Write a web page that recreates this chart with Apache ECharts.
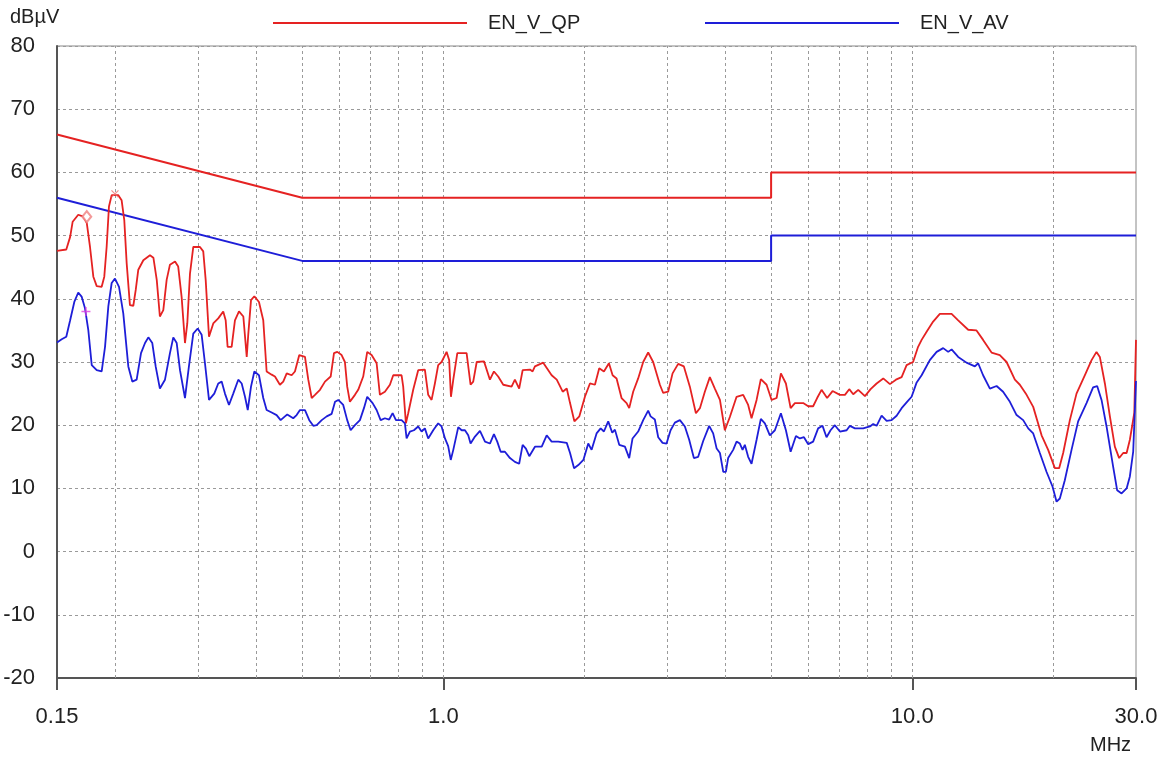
<!DOCTYPE html>
<html><head><meta charset="utf-8">
<script src="https://cdn.jsdelivr.net/npm/echarts@6/dist/echarts.min.js"></script>
<style>html,body{margin:0;padding:0;background:#fff;}#c{width:1173px;height:758px;}</style>
</head><body><div id="c"></div>
<script>
// ---- data (MHz, dBµV) ----
const qpFreq=[0.150,0.157,0.160,0.162,0.1665,0.1707,0.1736,0.1764,0.1793,0.1823,
0.1868,0.1892,0.1914,0.1936,0.1962,0.2027,0.206,0.2087,0.2112,0.2146,
0.2182,0.2208,0.2236,0.2292,0.2368,0.2408,0.2448,0.2486,0.2528,0.257,
0.2612,0.2678,0.272,0.2766,0.2812,0.2844,0.2882,0.2929,0.3027,0.3076,
0.3113,0.3164,0.3231,0.3311,0.3393,0.3434,0.3467,0.3536,0.3594,0.3666,
0.3745,0.3808,0.3838,0.3889,0.3953,0.4044,0.413,0.4199,0.4304,0.4374,
0.4482,0.4556,0.4634,0.4748,0.4825,0.4929,0.5069,0.5152,0.5239,0.5324,
0.5457,0.5592,0.5751,0.5845,0.5941,0.6068,0.6167,0.6237,0.632,0.6478,
0.6583,0.6747,0.6881,0.7031,0.7206,0.7323,0.7505,0.7692,0.7818,0.8146,
0.8211,0.832,0.8415,0.8624,0.8838,0.9133,0.9283,0.9439,0.9593,0.975,
0.9914,1.016,1.029,1.038,1.050,1.071,1.121,1.143,1.158,1.178,
1.221,1.257,1.282,1.309,1.342,1.398,1.421,1.451,1.476,1.530,
1.550,1.568,1.633,1.702,1.745,1.797,1.833,1.863,1.903,1.950,
2.004,2.054,2.105,2.150,2.200,2.255,2.296,2.341,2.399,2.459,
2.491,2.540,2.603,2.668,2.734,2.802,2.896,2.943,3.016,3.082,
3.168,3.258,3.355,3.456,3.525,3.611,3.701,3.793,3.889,3.984,
4.083,4.220,4.359,4.467,4.542,4.656,4.754,4.890,5.012,5.137,
5.246,5.377,5.503,5.620,5.853,5.999,6.146,6.268,6.405,6.583,
6.761,7.010,7.185,7.338,7.483,7.669,7.927,8.150,8.394,8.671,
8.960,9.229,9.491,9.726,10.04,10.29,10.47,10.73,11.08,11.45,
12.13,12.53,13.16,13.71,14.16,14.76,15.37,15.89,16.55,16.96,
17.53,18.11,18.87,19.49,20.14,20.57,20.98,21.68,22.40,23.33,
24.12,24.71,25.12,25.75,26.39,27.04,27.62,28.17,28.65,29.11,
29.50,29.75,30.0];
const qpLevel=[47.6,47.8,49.8,52.2,53.3,53.0,52.0,48.2,43.5,42.0,
41.9,43.5,48.2,54.6,56.4,56.4,55.6,52.5,45.6,39.0,
38.9,41.4,44.6,46.1,46.9,46.5,43.0,37.2,38.2,43.0,
45.4,45.9,45.1,40.3,33.0,36.1,44.0,48.2,48.2,47.5,
43.0,34.0,36.1,36.9,38.0,36.6,32.4,32.4,36.6,38.0,
37.2,30.8,34.5,39.8,40.4,39.5,36.6,28.5,28.0,27.7,
26.4,26.9,28.2,27.9,28.5,31.1,30.8,27.2,24.3,24.8,
25.6,26.9,27.7,31.4,31.6,31.1,30.0,26.1,23.7,24.8,
25.6,27.7,31.6,31.1,29.8,24.8,25.3,26.4,27.9,27.9,
26.1,20.3,21.9,25.6,28.7,28.8,24.8,24.0,26.6,29.5,
30.0,31.6,30.3,24.5,27.2,31.4,31.4,26.4,26.9,30.0,
30.1,27.2,28.5,27.7,26.4,26.1,27.2,25.8,28.7,28.8,
28.5,29.3,29.9,27.9,27.2,25.3,25.8,23.5,20.6,21.4,
24.5,26.6,26.4,29.0,28.5,29.8,27.9,27.4,24.3,23.5,
22.7,25.3,27.4,30.0,31.5,30.0,26.4,25.1,25.3,28.2,
29.7,29.3,26.1,21.9,22.7,25.3,27.6,25.8,24.0,19.2,
21.3,24.5,24.8,23.2,21.1,24.0,27.3,26.4,24.0,24.3,
28.2,26.6,22.7,23.5,23.5,23.0,23.0,24.3,25.6,24.3,
25.4,24.8,24.8,25.7,24.9,25.6,24.6,25.7,26.6,27.4,
26.5,27.2,27.6,29.5,30.0,32.4,33.5,34.8,36.4,37.6,
37.6,36.6,35.1,35.0,33.5,31.5,31.1,30.0,27.2,26.4,
24.8,22.9,18.4,16.1,13.2,13.2,15.6,20.8,25.0,27.9,
30.3,31.6,30.8,26.6,21.4,16.6,14.8,15.6,15.6,17.7,
20.3,22.0,33.5];
const avFreq=[0.150,0.1535,0.157,0.160,0.1633,0.1665,0.1694,0.1721,0.1749,0.1779,
0.1823,0.1868,0.1899,0.193,0.1962,0.1994,0.2034,0.2077,0.2129,0.2171,
0.2218,0.2266,0.2311,0.2349,0.2395,0.2435,0.2486,0.2549,0.2612,0.2655,
0.27,0.2744,0.2812,0.2867,0.2929,0.2993,0.3052,0.3102,0.3164,0.3247,
0.3311,0.3367,0.3422,0.349,0.3564,0.3653,0.3715,0.3776,0.3827,0.3889,
0.3953,0.4044,0.413,0.4199,0.4304,0.441,0.4498,0.4594,0.4646,0.4785,
0.4865,0.4946,0.5069,0.5177,0.528,0.5369,0.5503,0.564,0.5779,0.5875,
0.597,0.6116,0.6237,0.6343,0.6478,0.6639,0.6771,0.6881,0.7066,0.7206,
0.7349,0.7505,0.7665,0.7795,0.7923,0.8146,0.828,0.8349,0.8486,0.8654,
0.8838,0.8987,0.9133,0.9283,0.9514,0.975,0.9914,1.008,1.024,1.037,
1.050,1.076,1.094,1.112,1.130,1.143,1.168,1.197,1.227,1.257,
1.282,1.303,1.325,1.353,1.387,1.421,1.451,1.476,1.500,1.525,
1.568,1.621,1.661,1.702,1.758,1.833,1.863,1.900,1.940,1.989,
2.037,2.071,2.122,2.165,2.200,2.247,2.292,2.322,2.372,2.439,
2.491,2.532,2.603,2.668,2.734,2.767,2.825,2.872,2.934,2.992,
3.052,3.117,3.195,3.274,3.344,3.422,3.495,3.582,3.689,3.762,
3.827,3.889,3.953,4.004,4.049,4.150,4.220,4.289,4.346,4.395,
4.467,4.542,4.656,4.754,4.849,4.969,5.094,5.246,5.377,5.503,
5.648,5.760,5.875,5.999,6.146,6.299,6.437,6.564,6.695,6.838,
7.010,7.245,7.363,7.546,7.860,8.122,8.255,8.394,8.603,8.817,
9.035,9.260,9.491,9.726,9.967,10.21,10.47,10.90,11.27,11.64,
11.93,12.13,12.53,13.05,13.60,13.82,14.16,14.64,15.13,15.62,
16.15,16.69,17.24,17.67,18.11,18.71,19.34,19.91,20.31,20.64,
21.15,21.86,22.58,23.53,24.30,24.79,25.33,25.96,26.82,27.35,
27.95,28.65,29.11,29.59,30.0];
const avLevel=[33.1,33.6,34.0,36.6,39.5,41.0,40.3,38.5,35.1,29.5,
28.7,28.5,32.4,38.8,42.5,43.2,41.9,37.7,29.3,26.9,
27.2,31.4,33.0,33.9,33.0,29.3,25.8,27.2,31.4,33.9,
33.0,28.7,24.3,29.3,34.5,35.3,34.3,29.8,24.0,25.0,
26.6,26.9,25.0,23.2,25.0,27.2,26.6,24.5,22.4,26.1,
28.5,27.9,24.3,22.4,22.0,21.6,20.8,21.4,21.7,21.1,
21.6,22.4,22.4,20.8,19.9,20.0,20.8,21.4,21.8,23.7,
24.0,23.2,20.8,19.2,20.0,20.8,22.7,24.5,23.5,22.4,
20.8,21.1,20.9,21.9,20.8,20.8,20.3,17.9,19.0,19.2,
19.8,19.0,19.5,17.9,19.2,20.3,19.8,17.9,16.7,14.5,
16.1,19.7,19.2,19.2,18.4,17.1,18.2,19.1,17.4,17.1,
18.6,17.4,15.8,15.8,14.8,14.2,13.9,16.9,16.3,15.1,
16.6,16.6,18.4,17.4,17.4,17.2,15.6,13.2,13.7,14.5,
17.1,16.1,18.7,19.5,19.0,20.6,18.8,19.3,16.9,16.6,
14.8,17.9,19.0,20.8,22.3,21.4,20.9,18.1,17.2,17.1,
19.2,20.4,20.8,19.8,17.7,14.8,15.0,17.5,19.9,18.7,
16.3,15.6,12.6,12.6,14.8,16.1,17.4,17.1,16.1,16.9,
15.0,13.9,17.7,21.0,20.3,18.4,19.2,21.9,19.2,15.8,
18.3,17.9,18.1,17.0,17.4,19.5,19.9,18.1,19.2,20.0,
19.0,19.2,19.9,19.5,19.5,19.8,20.2,19.9,21.5,20.7,
20.8,21.5,22.7,23.6,24.5,26.7,27.9,30.3,31.6,32.2,
31.6,32.0,30.8,29.9,29.3,29.8,27.9,25.8,26.2,25.3,
23.7,21.6,20.8,19.5,18.7,15.6,12.6,10.3,7.9,8.4,
11.3,16.1,20.6,23.5,26.0,26.2,24.0,19.8,13.4,9.7,
9.2,10.0,11.9,15.8,27.0];
const limitQpFreq=[0.15,0.5,5,5,30];
const limitQpLevel=[66,56,56,60,60];
const limitAvFreq=[0.15,0.5,5,5,30];
const limitAvLevel=[56,46,46,50,50];
const markerFreq=[0.1736,0.1994,0.1729];
const markerLevel=[53.0,56.6,38.0];
const gridFreqs=[0.2,0.3,0.4,0.5,0.6,0.7,0.8,0.9,1,2,3,4,5,6,7,8,9,10,20];
const xTickValues=[0.15,1,10,30];
const xTickLabels=['0.15','1.0','10.0','30.0'];
const seriesNames=['EN_V_QP','EN_V_AV'];

const RED='#e52222', BLUE='#1e1ed8', FONT='"Liberation Sans", Arial, sans-serif';
const zip=(a,b)=>a.map((v,i)=>[v,b[i]]);
const chart=echarts.init(document.getElementById('c'),null,{renderer:'canvas'});
const legendBase={orient:'horizontal',padding:0,icon:'rect',itemWidth:194,itemHeight:2,
  textStyle:{fontSize:20,color:'#222',fontFamily:FONT,padding:[0,0,0,16]},selectedMode:false};
chart.setOption({
  animation:false,
  backgroundColor:'#fff',
  title:[
    {text:'dBµV',left:10,top:7,padding:0,textStyle:{fontSize:20,fontWeight:'normal',color:'#222',fontFamily:FONT}},
    {text:'MHz',left:1090,top:735,padding:0,textStyle:{fontSize:20,fontWeight:'normal',color:'#222',fontFamily:FONT}}
  ],
  legend:[
    Object.assign({left:273,top:13,data:[seriesNames[0]]},legendBase),
    Object.assign({left:705,top:13,data:[seriesNames[1]]},legendBase)
  ],
  grid:{left:57,top:46,width:1079,height:632,show:true,borderColor:'#888',borderWidth:1,containLabel:false},
  xAxis:{type:'log',logBase:10,min:0.15,max:30,
    axisLine:{show:true,onZero:false,lineStyle:{color:'#555',width:2}},
    axisTick:{show:true,length:12,inside:false,lineStyle:{color:'#555',width:2}},
    axisLabel:{show:true,fontSize:22,color:'#222',fontFamily:FONT,margin:28,
      formatter:function(v){let b=0;for(let i=1;i<xTickValues.length;i++){if(Math.abs(Math.log(v/xTickValues[i]))<Math.abs(Math.log(v/xTickValues[b])))b=i;}return xTickLabels[b];}},
    splitLine:{show:false},minorTick:{show:false}},
  yAxis:{type:'value',min:-20,max:80,interval:10,
    axisLine:{show:true,onZero:false,lineStyle:{color:'#555',width:2}},
    axisTick:{show:false},
    axisLabel:{fontSize:22,color:'#222',fontFamily:FONT,margin:22},
    splitLine:{show:true,lineStyle:{color:'#9a9a9a',type:[3,3],width:1}}},
  series:[
    {name:'grid',type:'line',data:[],silent:true,
      markLine:{silent:true,z:1,symbol:['none','none'],label:{show:false},animation:false,
        lineStyle:{color:'#9a9a9a',type:[3,3],width:1},
        emphasis:{disabled:true},
        data:gridFreqs.map(f=>({xAxis:f}))}},
    {name:seriesNames[0],type:'line',data:zip(limitQpFreq,limitQpLevel),showSymbol:false,symbol:'none',
      lineStyle:{color:RED,width:2},itemStyle:{color:RED},z:3},
    {name:seriesNames[1],type:'line',data:zip(limitAvFreq,limitAvLevel),showSymbol:false,symbol:'none',
      lineStyle:{color:BLUE,width:2},itemStyle:{color:BLUE},z:3},
    {name:'QP',type:'line',data:zip(qpFreq,qpLevel),showSymbol:false,symbol:'none',
      lineStyle:{color:RED,width:1.8},itemStyle:{color:RED},z:4},
    {name:'AV',type:'line',data:zip(avFreq,avLevel),showSymbol:false,symbol:'none',
      lineStyle:{color:BLUE,width:1.8},itemStyle:{color:BLUE},z:4},
    {name:'marks',type:'scatter',z:5,silent:true,
      data:[
        {value:[markerFreq[0],markerLevel[0]],symbol:'emptyDiamond',symbolSize:[9,11],itemStyle:{color:'#f08080',borderColor:'#f08080',borderWidth:1}},
        {value:[markerFreq[1],markerLevel[1]],symbol:'path://M0,0L10,10M10,0L0,10',symbolSize:7,itemStyle:{color:'none',borderColor:'#f07070',borderWidth:1.2}},
        {value:[markerFreq[2],markerLevel[2]],symbol:'path://M0,5L10,5M5,0L5,10',symbolSize:9,itemStyle:{color:'none',borderColor:'#e040e0',borderWidth:1.5}}
      ]}
  ]
});
</script></body></html>
